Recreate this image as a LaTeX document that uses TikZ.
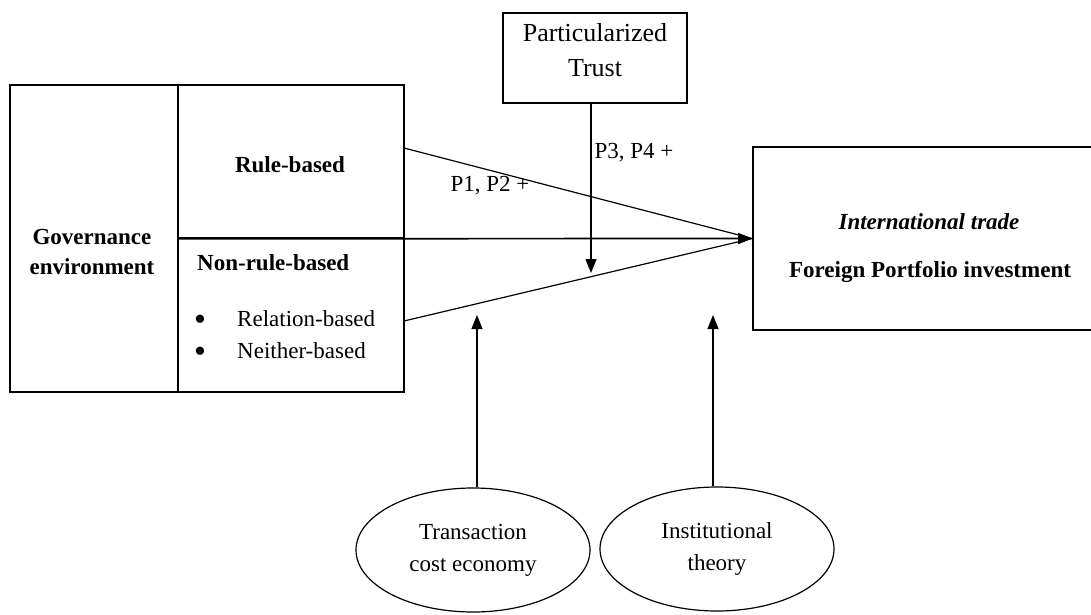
\documentclass[tikz,border=0pt]{standalone}
\usepackage{fontspec}
\setmainfont{Liberation Serif}
\usetikzlibrary{arrows.meta,shapes.geometric}
\begin{document}
\begin{tikzpicture}[x=1pt,y=-1pt,
  box/.style={draw, line width=1.6pt, inner sep=0pt},
  conn/.style={line width=1.2pt},
  arr/.style={conn, -{Triangle[length=14pt,width=11pt]}},
  lbl/.style={font=\fontsize{23}{30}\selectfont, inner sep=0pt},
  blbl/.style={font=\fontsize{23}{30}\selectfont\bfseries, inner sep=0pt},
  bul/.style={font=\fontsize{34}{34}\selectfont, inner sep=0pt},
  oval/.style={draw, ellipse, line width=1.2pt, minimum width=234pt, minimum height=124pt, inner sep=0pt, align=center, font=\fontsize{23}{32}\selectfont}
]
\useasboundingbox (0,0) rectangle (1091,615);
\fill[white] (0,0) rectangle (1091,615);
\clip (0,0) rectangle (1091,615);

% left block
\node[box, minimum width=168pt, minimum height=307pt] (gov) at (94,238.5) {};
\node[box, minimum width=226pt, minimum height=153pt] (rule) at (291,161.5) {};
\node[box, minimum width=226pt, minimum height=154pt] (nonrule) at (291,315) {};
\node[blbl, align=center] (govt) at (92,252) {Governance\\environment};
\node[blbl] (rulet) at (290,165) {Rule-based};
\node[blbl, anchor=west] (nrt) at (197,263) {Non-rule-based};
\node[bul] (b1) at (200,323) {\textbullet};
\node[bul] (b2) at (200,355) {\textbullet};
\node[lbl, anchor=west] (rel) at (237,319) {Relation-based};
\node[lbl, anchor=west] (nei) at (237,351) {Neither-based};

% outcome box
\node[box, minimum width=360pt, minimum height=183pt] (out) at (933,238.5) {};
\node[blbl, font=\fontsize{23}{30}\selectfont\bfseries\itshape] (it) at (929,222) {International trade};
\node[blbl] (fpi) at (930,272) {Foreign Portfolio investment};

% trust box
\node[box, minimum width=184pt, minimum height=90pt] (trust) at (595,58) {};
\node[lbl, align=center, font=\fontsize{26}{35}\selectfont] (trustt) at (595,50) {Particularized\\Trust};

% connectors to outcome
\coordinate (rs) at (404,148);
\coordinate (ns) at (404,321);
\draw[conn] (rs) -- (out.west);
\draw[conn] (ns) -- (out.west);
\draw[arr, line width=1.7pt] (rule.south west) -- (out.west);

% moderator arrow
\coordinate (t1) at (591,273);
\draw[arr] (trust.south -| t1) -- (t1);

\node[lbl] (p34) at (634,153) {P3, P4 +};
\node[lbl] (p12) at (490,186) {P1, P2 +};

% theories
\node[oval] (tce) at (473,550) {Transaction\\cost economy};
\node[oval] (inst) at (717,549) {Institutional\\theory};
\coordinate (a1) at (477,315);
\coordinate (a2) at (713,315);
\draw[arr] (tce.north -| a1) -- (a1);
\draw[arr] (inst.north -| a2) -- (a2);
\end{tikzpicture}
\end{document}
